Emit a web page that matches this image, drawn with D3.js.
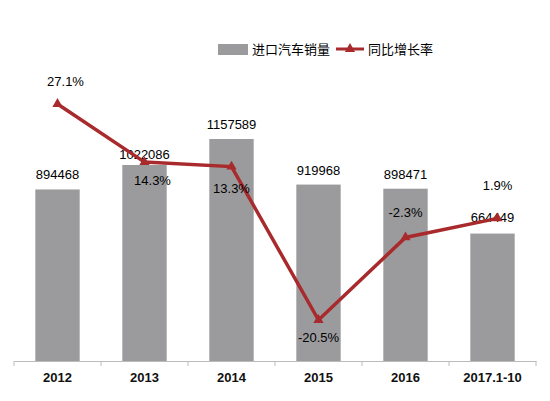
<!DOCTYPE html>
<html><head><meta charset="utf-8">
<script src="https://cdn.jsdelivr.net/npm/d3@7"></script>
<style>body{margin:0;background:#fff}text{font-family:"Liberation Sans",Arial,"Noto Sans CJK SC",sans-serif}</style>
</head><body><svg id="c" width="550" height="401"></svg>
<script>
const years = ['2012', '2013', '2014', '2015', '2016', '2017.1-10'];
const sales = [894468, 1022086, 1157589, 919968, 898471, 664449];
const growth = [27.1, 14.3, 13.3, -20.5, -2.3, 1.9];
// label offsets (dx, dy) relative to each point
const pctOffset = [[8, -18], [8, 23], [0, 26], [0, 22], [0, -20], [5, -28]];
const barOffset = [[0, -10], [0, -6], [0, -10], [0, -10], [0, -10], [0, -12]];

const svg = d3.select('#c');
const x = d3.scaleBand().domain(years).range([14, 536]).paddingInner(0.49).paddingOuter(0.245);
const y = d3.scaleLinear().domain([0, 1157589]).range([361, 139]);
const y2 = d3.scaleLinear().domain([-20.5, 27.1]).range([320, 104]);

svg.append('g').selectAll('rect').data(sales).join('rect')
  .attr('x', (d, i) => x(years[i])).attr('width', x.bandwidth())
  .attr('y', d => y(d)).attr('height', d => 361 - y(d)).attr('fill', '#9b9b9d');

svg.append('g').selectAll('text').data(sales).join('text')
  .attr('x', (d, i) => x(years[i]) + x.bandwidth() / 2 + barOffset[i][0])
  .attr('y', (d, i) => y(d) + barOffset[i][1])
  .attr('text-anchor', 'middle').attr('font-size', 13).text(d => d);

const axis = d3.axisBottom(x).tickSize(0).tickPadding(12);
const ag = svg.append('g').attr('transform', 'translate(0,361)').call(axis);
ag.select('.domain').attr('stroke', '#bbb');
ag.selectAll('text').attr('font-size', 13).attr('font-weight', 'bold').attr('fill', '#111');
ag.selectAll('line.t').data(d3.range(years.length + 1)).join('line').attr('class', 't')
  .attr('x1', i => 14 + i * x.step()).attr('x2', i => 14 + i * x.step()).attr('y1', 0).attr('y2', 5).attr('stroke', '#bbb');

const red = '#a82a2c';
const cx = (d, i) => x(years[i]) + x.bandwidth() / 2;
svg.append('path').datum(growth)
  .attr('d', d3.line().x((d, i) => cx(d, i) + (i === 5 ? 5 : 0)).y(d => y2(d)))
  .attr('fill', 'none').attr('stroke', red).attr('stroke-width', 3.5);
const tri = d3.symbol().type(d3.symbolTriangle).size(45);
svg.append('g').selectAll('path').data(growth).join('path')
  .attr('d', tri).attr('fill', red)
  .attr('transform', (d, i) => `translate(${cx(d, i) + (i === 5 ? 5 : 0)},${y2(d)})`);
svg.append('g').selectAll('text').data(growth).join('text')
  .attr('x', (d, i) => cx(d, i) + pctOffset[i][0]).attr('y', (d, i) => y2(d) + pctOffset[i][1])
  .attr('text-anchor', 'middle').attr('font-size', 13).text(d => d.toFixed(1) + '%');

// legend
const lg = svg.append('g').attr('font-size', 13);
lg.append('rect').attr('x', 218).attr('y', 44).attr('width', 30).attr('height', 11).attr('fill', '#9b9b9d');
lg.append('text').attr('x', 252).attr('y', 54).text('进口汽车销量');
lg.append('line').attr('x1', 336).attr('x2', 364).attr('y1', 49).attr('y2', 49).attr('stroke', red).attr('stroke-width', 3);
lg.append('path').attr('d', tri).attr('fill', red).attr('transform', 'translate(350,49)');
lg.append('text').attr('x', 368).attr('y', 54).text('同比增长率');
</script></body></html>
